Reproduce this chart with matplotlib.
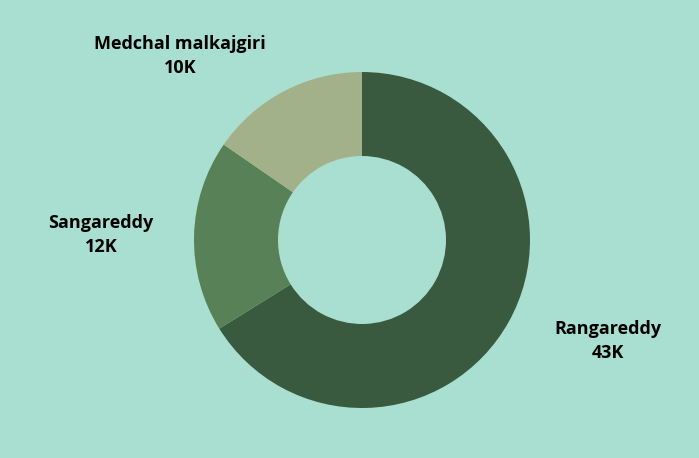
import matplotlib
matplotlib.use('Agg')
import matplotlib.pyplot as plt

districts = ['Rangareddy', 'Sangareddy', 'Medchal malkajgiri']
values = [43, 12, 10]
value_labels = ['43K', '12K', '10K']
colors = ['#3a5a40', '#588157', '#a3b18a']
bg = '#a8dfd0'

W, H = 699, 458
fig = plt.figure(figsize=(W / 100, H / 100), dpi=100, facecolor=bg)

cx, cy, r = 362, 240, 168
ax = fig.add_axes([(cx - r) / W, (H - cy - r) / H, 2 * r / W, 2 * r / H])
ax.set_facecolor(bg)
ax.pie(values, colors=colors, startangle=90, counterclock=False, radius=1,
       wedgeprops=dict(width=0.5, linewidth=0))
ax.set_xlim(-1, 1)
ax.set_ylim(-1, 1)
ax.set_aspect('equal')
ax.axis('off')

# label positions in pixels (centre of the two-line block)
label_pos = [(608, 341), (101, 235), (180, 56)]
for name, lab, (px, py) in zip(districts, value_labels, label_pos):
    fig.text(px / W, 1 - py / H, f'{name}\n{lab}', ha='center', va='center',
             fontsize=13, fontweight='bold', family=['Open Sans', 'DejaVu Sans'],
             color='black', linespacing=1.45)

fig.savefig('out.png', dpi=100, facecolor=bg)
